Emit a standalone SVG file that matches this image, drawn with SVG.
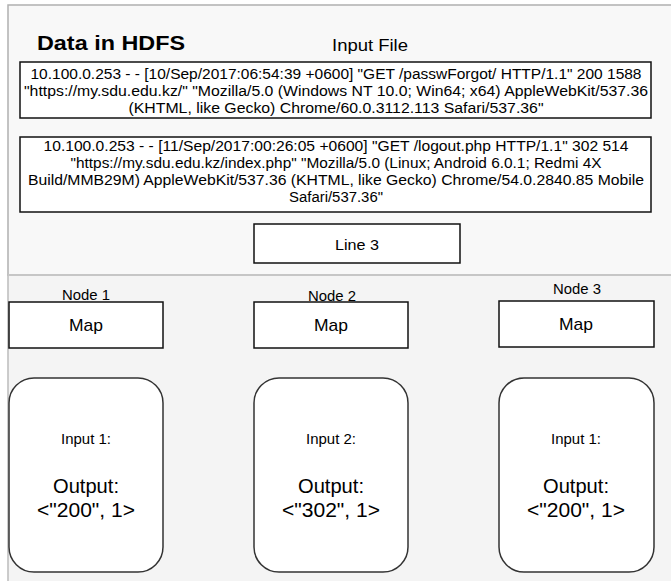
<svg xmlns="http://www.w3.org/2000/svg" width="671" height="581" viewBox="0 0 671 581">
<style>
text{font-family:"Liberation Sans",Arial,Helvetica,sans-serif;fill:#000;text-anchor:middle}
.box{fill:#fff;stroke:#111;stroke-width:1.5}
.rbox{fill:#fff;stroke:#333;stroke-width:1.5}
.log{font-size:14px}
.sm{font-size:14px}
.map{font-size:17px}
.out{font-size:20px}
</style>
<rect x="0" y="0" width="671" height="581" fill="#ffffff"/>
<g id="background">
<rect x="8" y="5" width="680" height="270" fill="#f8f8f8" stroke="#b0b0b0" stroke-width="1.5"/>
<rect x="8" y="275" width="680" height="320" fill="#f4f4f4" stroke="#bcbcbc" stroke-width="1.5"/>
<line x1="8" y1="275" x2="671" y2="275" stroke="#c6c6c6" stroke-width="2"/>
</g>
<g id="title">
<text x="37" y="50" style="text-anchor:start;font-weight:bold;font-size:21px" textLength="148" lengthAdjust="spacingAndGlyphs">Data in HDFS</text>
<text x="370" y="51" style="font-size:16px" textLength="76" lengthAdjust="spacingAndGlyphs">Input File</text>
</g>
<g id="line1">
<rect class="box" x="20" y="62" width="631" height="56"/>
<text class="log" x="336" y="79" textLength="611" lengthAdjust="spacingAndGlyphs">10.100.0.253 - - [10/Sep/2017:06:54:39 +0600] "GET /passwForgot/ HTTP/1.1" 200 1588</text>
<text class="log" x="336" y="96" textLength="624" lengthAdjust="spacingAndGlyphs">"https://my.sdu.edu.kz/" "Mozilla/5.0 (Windows NT 10.0; Win64; x64) AppleWebKit/537.36</text>
<text class="log" x="336" y="113" textLength="415" lengthAdjust="spacingAndGlyphs">(KHTML, like Gecko) Chrome/60.0.3112.113 Safari/537.36"</text>
</g>
<g id="line2">
<rect class="box" x="20" y="137" width="631" height="75"/>
<text class="log" x="336" y="151" textLength="585" lengthAdjust="spacingAndGlyphs">10.100.0.253 - - [11/Sep/2017:00:26:05 +0600] "GET /logout.php HTTP/1.1" 302 514</text>
<text class="log" x="336" y="168" textLength="531" lengthAdjust="spacingAndGlyphs">"https://my.sdu.edu.kz/index.php" "Mozilla/5.0 (Linux; Android 6.0.1; Redmi 4X</text>
<text class="log" x="336" y="185" textLength="616" lengthAdjust="spacingAndGlyphs">Build/MMB29M) AppleWebKit/537.36 (KHTML, like Gecko) Chrome/54.0.2840.85 Mobile</text>
<text class="log" x="336" y="202" textLength="94" lengthAdjust="spacingAndGlyphs">Safari/537.36"</text>
</g>
<g id="line3">
<rect class="box" x="254" y="224" width="206" height="39"/>
<text class="sm" x="357" y="250" textLength="44" lengthAdjust="spacingAndGlyphs">Line 3</text>
</g>
<g id="node1">
<text class="sm" x="86" y="300" textLength="48" lengthAdjust="spacingAndGlyphs">Node 1</text>
<rect class="box" x="9" y="302" width="154" height="46"/>
<text class="map" x="86" y="331" textLength="34" lengthAdjust="spacingAndGlyphs">Map</text>
<rect class="rbox" x="9" y="378" width="154" height="194" rx="25" ry="25"/>
<text class="sm" x="86" y="444" textLength="50" lengthAdjust="spacingAndGlyphs">Input 1:</text>
<text class="out" x="86" y="493" textLength="66" lengthAdjust="spacingAndGlyphs">Output:</text>
<text class="out" x="86" y="517" textLength="98" lengthAdjust="spacingAndGlyphs">&lt;"200", 1&gt;</text>
</g>
<g id="node2">
<text class="sm" x="332" y="301" textLength="48" lengthAdjust="spacingAndGlyphs">Node 2</text>
<rect class="box" x="254" y="302" width="154" height="46"/>
<text class="map" x="331" y="331" textLength="34" lengthAdjust="spacingAndGlyphs">Map</text>
<rect class="rbox" x="254" y="378" width="154" height="194" rx="25" ry="25"/>
<text class="sm" x="331" y="444" textLength="50" lengthAdjust="spacingAndGlyphs">Input 2:</text>
<text class="out" x="331" y="493" textLength="66" lengthAdjust="spacingAndGlyphs">Output:</text>
<text class="out" x="331" y="517" textLength="98" lengthAdjust="spacingAndGlyphs">&lt;"302", 1&gt;</text>
</g>
<g id="node3">
<text class="sm" x="577" y="294" textLength="48" lengthAdjust="spacingAndGlyphs">Node 3</text>
<rect class="box" x="499" y="301" width="155" height="46"/>
<text class="map" x="576" y="330" textLength="34" lengthAdjust="spacingAndGlyphs">Map</text>
<rect class="rbox" x="499" y="378" width="155" height="194" rx="25" ry="25"/>
<text class="sm" x="576" y="444" textLength="50" lengthAdjust="spacingAndGlyphs">Input 1:</text>
<text class="out" x="576" y="493" textLength="66" lengthAdjust="spacingAndGlyphs">Output:</text>
<text class="out" x="576" y="517" textLength="98" lengthAdjust="spacingAndGlyphs">&lt;"200", 1&gt;</text>
</g>
<g id="connectors"></g>
</svg>
